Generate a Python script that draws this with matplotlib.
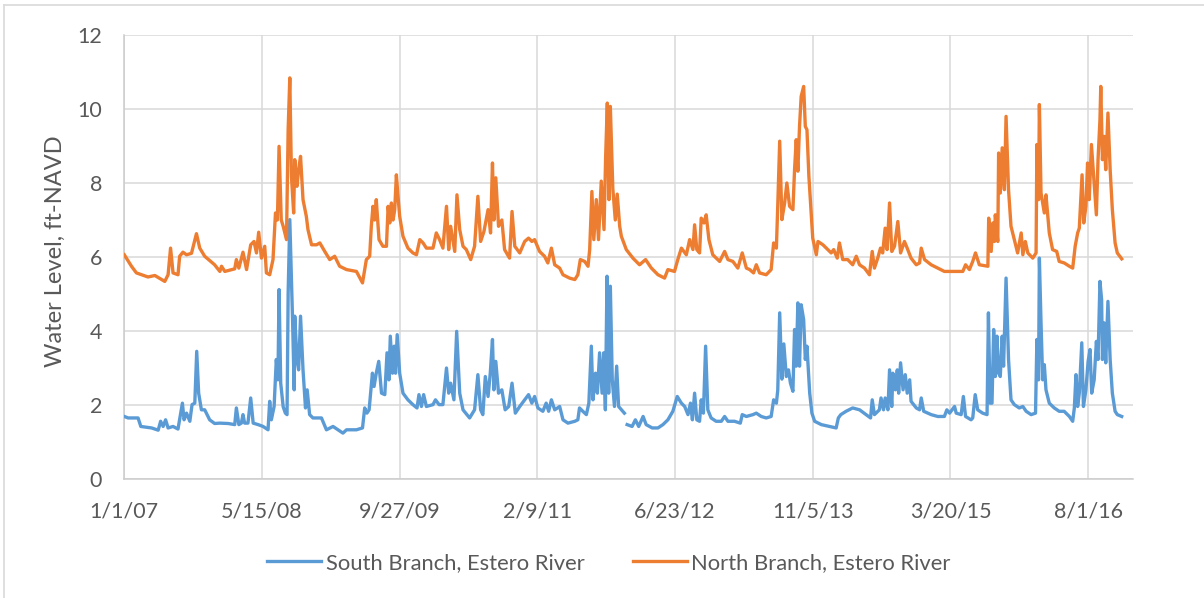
import numpy as np
import matplotlib
matplotlib.use("Agg")
import matplotlib.pyplot as plt
import matplotlib.dates as mdates
from matplotlib.lines import Line2D

# days since 1/1/2007 and water level (ft-NAVD)
south_day = [0, 14, 50, 60, 99, 123, 132, 141, 150, 159, 177, 195, 204, 211, 217, 226, 238, 246, 256, 263,
             270, 280, 292, 310, 328, 347, 377, 401, 407, 416, 425, 431, 437, 449, 459, 468, 486, 504, 522, 528,
             534, 544, 552, 558, 562, 568, 577, 585, 591, 595, 601, 611, 617, 619, 627, 633, 640, 649, 658, 664,
             673, 685, 716, 734, 758, 776, 794, 807, 843, 865, 873, 881, 889, 901, 907, 915, 924, 934, 946, 954,
             961, 966, 974, 980, 985, 991, 1000, 1012, 1030, 1048, 1063, 1070, 1079, 1087, 1097, 1121, 1130, 1143, 1157, 1170,
             1178, 1185, 1197, 1207, 1218, 1230, 1254, 1272, 1284, 1294, 1302, 1311, 1321, 1329, 1337, 1342, 1349, 1359, 1371, 1383,
             1396, 1408, 1420, 1436, 1454, 1468, 1480, 1490, 1502, 1520, 1532, 1541, 1551, 1563, 1581, 1593, 1611, 1636, 1647, 1653,
             1665, 1678, 1687, 1696, 1702, 1711, 1718, 1726, 1735, 1741, 1747, 1753, 1759, 1765, 1772, 1780, 1788, 1795, 1816, 1821,
             1826, 1844, 1856, 1868, 1884, 1895, 1917, 1938, 1956, 1974, 1992, 2008, 2023, 2035, 2047, 2056, 2063, 2071, 2079, 2089,
             2095, 2103, 2111, 2119, 2131, 2149, 2168, 2180, 2192, 2216, 2237, 2244, 2259, 2283, 2295, 2313, 2331, 2349, 2358, 2368,
             2373, 2380, 2388, 2395, 2404, 2412, 2419, 2428, 2434, 2440, 2446, 2452, 2458, 2467, 2473, 2479, 2489, 2497, 2507, 2531,
             2561, 2585, 2593, 2602, 2621, 2645, 2670, 2694, 2710, 2716, 2724, 2742, 2748, 2757, 2763, 2773, 2779, 2787, 2791, 2800,
             2807, 2812, 2819, 2828, 2836, 2843, 2852, 2857, 2876, 2888, 2894, 2903, 2930, 2954, 2978, 2987, 2997, 3015, 3021, 3039,
             3047, 3055, 3075, 3081, 3090, 3099, 3117, 3133, 3138, 3144, 3151, 3157, 3163, 3169, 3175, 3181, 3188, 3193, 3202, 3211,
             3220, 3232, 3250, 3263, 3275, 3293, 3309, 3314, 3320, 3323, 3329, 3335, 3341, 3347, 3359, 3377, 3395, 3413, 3432, 3444,
             3450, 3456, 3462, 3468, 3477, 3483, 3492, 3500, 3507, 3513, 3522, 3530, 3536, 3543, 3549, 3552, 3558, 3564, 3572, 3580,
             3588, 3598, 3606, 3622]
south_level = [1.69, 1.65, 1.65, 1.42, 1.38, 1.32, 1.56, 1.42, 1.60, 1.38, 1.42, 1.35, 1.74, 2.05, 1.60, 1.78, 1.56, 2.01, 2.05, 3.45,
               2.32, 1.87, 1.87, 1.60, 1.50, 1.51, 1.50, 1.47, 1.92, 1.47, 1.51, 1.74, 1.51, 1.51, 2.19, 1.51, 1.47, 1.42, 1.33, 2.10,
               1.60, 1.96, 3.23, 2.68, 5.12, 2.59, 1.95, 1.78, 1.74, 5.03, 7.01, 4.31, 2.41, 4.40, 3.23, 2.95, 4.40, 2.95, 1.92, 2.41,
               1.74, 1.65, 1.65, 1.33, 1.42, 1.33, 1.24, 1.33, 1.33, 1.38, 1.92, 1.78, 1.87, 2.86, 2.50, 2.86, 3.18, 2.32, 2.28, 3.41,
               2.68, 3.86, 2.86, 3.59, 2.86, 3.90, 2.86, 2.32, 2.14, 2.01, 1.92, 2.28, 1.96, 2.28, 1.96, 2.01, 2.14, 2.01, 2.01, 3.00,
               2.32, 2.59, 2.14, 3.99, 2.32, 1.87, 1.65, 1.87, 2.82, 1.87, 1.74, 2.77, 2.23, 2.86, 3.77, 2.41, 3.18, 2.32, 2.41, 1.87,
               1.96, 2.59, 1.78, 1.96, 2.14, 2.28, 2.05, 2.23, 1.92, 1.83, 2.05, 1.83, 2.14, 1.87, 1.96, 1.60, 1.51, 1.56, 1.60, 1.92,
               1.83, 1.74, 2.05, 3.59, 2.14, 2.86, 2.32, 3.41, 2.32, 3.41, 1.87, 5.48, 2.32, 5.21, 2.68, 1.96, 3.05, 1.96, 1.78, np.nan,
               1.47, 1.42, 1.60, 1.42, 1.69, 1.47, 1.38, 1.38, 1.47, 1.60, 1.83, 2.23, 2.05, 1.96, 1.74, 2.05, 1.60, 2.32, 1.60, 1.56,
               2.14, 1.78, 3.59, 1.87, 1.65, 1.56, 1.56, 1.69, 1.56, 1.56, 1.51, 1.74, 1.69, 1.74, 1.78, 1.69, 1.65, 1.69, 2.14, 2.05,
               2.40, 4.49, 2.70, 3.65, 2.77, 2.95, 2.59, 2.37, 4.04, 3.05, 4.76, 3.05, 4.71, 4.31, 3.23, 3.59, 2.32, 1.78, 1.56, 1.47,
               1.42, 1.38, 1.65, 1.74, 1.83, 1.92, 1.87, 1.74, 1.65, 2.14, 1.74, 1.87, 2.19, 1.87, 2.19, 1.87, 2.95, 1.96, 2.86, 2.41,
               2.95, 2.32, 3.14, 2.41, 2.82, 2.32, 2.68, 2.10, 1.92, 1.87, 2.19, 1.83, 1.74, 1.69, 1.69, 1.87, 1.78, 1.96, 1.78, 1.74,
               2.23, 1.69, 1.60, 1.65, 2.28, 1.87, 1.78, 1.74, 4.49, 2.05, 2.05, 4.04, 2.77, 3.86, 2.86, 2.77, 3.86, 3.05, 5.43, 3.23,
               2.14, 2.01, 1.92, 1.96, 1.83, 1.74, 1.78, 3.77, 2.68, 5.97, 4.22, 2.68, 3.09, 2.41, 2.05, 1.92, 1.83, 1.83, 1.69, 1.56,
               1.92, 2.82, 1.96, 2.32, 3.68, 1.96, 2.41, 3.18, 3.50, 2.32, 2.68, 3.72, 3.23, 5.34, 4.85, 3.23, 4.22, 3.14, 4.80, 3.23,
               2.32, 1.83, 1.74, 1.69]

north_day = [0, 26, 44, 86, 111, 147, 159, 168, 177, 195, 201, 213, 226, 244, 262, 274, 292, 328, 347, 353,
             365, 401, 407, 416, 431, 444, 459, 471, 480, 488, 498, 510, 516, 528, 540, 549, 556, 562, 570, 577,
             589, 595, 601, 607, 615, 619, 627, 633, 640, 649, 661, 667, 680, 698, 710, 728, 746, 764, 782, 807,
             843, 865, 879, 891, 897, 903, 909, 915, 925, 939, 952, 958, 964, 970, 976, 982, 988, 994, 1000, 1012,
             1030, 1048, 1061, 1073, 1085, 1097, 1121, 1133, 1145, 1157, 1170, 1178, 1185, 1200, 1208, 1218, 1230, 1242, 1258, 1272,
             1284, 1294, 1306, 1321, 1330, 1337, 1342, 1349, 1359, 1371, 1381, 1399, 1408, 1418, 1436, 1454, 1468, 1480, 1490, 1508,
             1526, 1538, 1551, 1563, 1581, 1593, 1617, 1636, 1647, 1656, 1672, 1684, 1690, 1698, 1705, 1714, 1722, 1732, 1742, 1748,
             1754, 1760, 1765, 1774, 1783, 1790, 1799, 1805, 1823, 1847, 1871, 1893, 1914, 1938, 1962, 1974, 1998, 2010, 2023, 2041,
             2053, 2065, 2071, 2079, 2089, 2095, 2105, 2113, 2123, 2137, 2162, 2180, 2192, 2210, 2228, 2244, 2259, 2271, 2285, 2295,
             2307, 2331, 2349, 2358, 2368, 2373, 2380, 2388, 2398, 2406, 2416, 2428, 2434, 2440, 2446, 2452, 2458, 2467, 2473, 2479,
             2486, 2495, 2500, 2513, 2519, 2537, 2555, 2567, 2576, 2589, 2597, 2609, 2627, 2645, 2658, 2670, 2688, 2706, 2716, 2724,
             2736, 2746, 2754, 2763, 2770, 2779, 2787, 2797, 2809, 2819, 2833, 2843, 2857, 2876, 2888, 2894, 2906, 2930, 2954, 2978,
             3015, 3045, 3055, 3069, 3081, 3091, 3105, 3136, 3139, 3148, 3154, 3160, 3163, 3172, 3175, 3181, 3188, 3196, 3202, 3211,
             3220, 3232, 3244, 3257, 3263, 3272, 3281, 3299, 3311, 3314, 3320, 3323, 3329, 3341, 3347, 3359, 3371, 3386, 3395, 3413,
             3432, 3444, 3453, 3462, 3468, 3478, 3484, 3492, 3498, 3504, 3512, 3522, 3530, 3536, 3543, 3546, 3552, 3558, 3564, 3572,
             3580, 3588, 3598, 3606, 3622]
north_level = [6.06, 5.75, 5.57, 5.46, 5.50, 5.34, 5.52, 6.24, 5.57, 5.52, 6.02, 6.13, 6.06, 6.10, 6.63, 6.24, 6.02, 5.79, 5.61, 5.75,
               5.61, 5.68, 5.93, 5.70, 6.13, 5.66, 6.33, 6.42, 6.11, 6.67, 5.97, 6.29, 5.57, 5.52, 5.93, 7.19, 7.00, 8.99, 7.00, 6.83,
               6.47, 9.44, 10.84, 8.18, 7.19, 8.63, 7.91, 8.36, 8.72, 7.55, 7.10, 6.74, 6.33, 6.33, 6.38, 6.15, 5.93, 6.02, 5.75, 5.66,
               5.61, 5.30, 5.93, 6.02, 6.83, 7.37, 7.00, 7.55, 6.47, 6.29, 6.29, 7.37, 6.92, 7.46, 7.00, 7.28, 8.22, 7.64, 7.10, 6.56,
               6.24, 6.11, 6.06, 6.47, 6.38, 6.24, 6.24, 6.65, 6.47, 6.24, 7.37, 6.20, 6.83, 6.15, 7.68, 6.74, 6.29, 6.20, 5.93, 6.29,
               7.64, 6.42, 6.69, 7.28, 6.65, 8.54, 7.00, 8.14, 6.83, 7.00, 6.20, 5.97, 7.23, 6.29, 6.11, 6.42, 6.51, 6.42, 6.47, 6.15,
               6.02, 5.84, 6.24, 5.79, 5.70, 5.52, 5.43, 5.39, 5.52, 5.93, 5.88, 5.75, 6.20, 7.77, 6.47, 7.55, 6.47, 8.05, 6.74, 8.72,
               10.16, 7.55, 10.07, 7.85, 7.00, 7.70, 6.83, 6.56, 6.20, 5.97, 5.79, 5.93, 5.70, 5.52, 5.43, 5.66, 5.61, 5.93, 6.24, 6.06,
               6.47, 6.20, 6.87, 6.20, 6.11, 7.05, 6.92, 7.14, 6.47, 6.06, 5.88, 6.15, 5.93, 5.88, 5.70, 6.11, 5.70, 5.66, 5.57, 5.79,
               5.57, 5.52, 5.66, 6.38, 6.24, 7.40, 9.13, 7.01, 7.46, 8.00, 7.37, 7.28, 8.36, 9.17, 8.32, 9.53, 10.34, 10.61, 9.53, 9.44,
               8.18, 7.10, 6.51, 6.06, 6.42, 6.33, 6.20, 6.11, 6.20, 5.97, 6.38, 5.93, 5.93, 5.79, 6.02, 5.79, 5.70, 5.52, 6.15, 5.70,
               5.97, 6.24, 6.11, 6.78, 6.20, 7.46, 6.15, 6.29, 6.96, 6.11, 6.42, 6.24, 5.97, 5.79, 5.84, 6.24, 5.93, 5.79, 5.70, 5.61,
               5.61, 5.61, 5.79, 5.66, 5.88, 6.11, 5.79, 5.75, 7.05, 6.15, 6.92, 6.42, 7.14, 6.42, 8.81, 7.73, 8.95, 7.82, 9.80, 7.82,
               6.83, 6.47, 6.11, 6.65, 6.06, 6.42, 6.11, 5.97, 6.11, 9.04, 7.55, 10.12, 7.73, 7.19, 7.68, 6.65, 6.20, 6.15, 5.88, 5.84,
               5.75, 5.70, 6.29, 6.65, 6.78, 8.22, 6.92, 7.37, 8.54, 7.55, 9.04, 8.00, 7.14, 8.63, 9.71, 10.61, 8.63, 9.26, 8.36, 9.89,
               8.36, 7.28, 6.38, 6.11, 5.95]

series_names = ["South Branch, Estero River", "North Branch, Estero River"]
y_ticks = [0, 2, 4, 6, 8, 10, 12]

start = np.datetime64("2007-01-01")
south_x = start + np.array(south_day).astype("timedelta64[D]")
north_x = start + np.array(north_day).astype("timedelta64[D]")
x_ticks = [start + np.timedelta64(500 * k, "D") for k in range(8)]

plt.rcParams["font.family"] = ["Lato", "DejaVu Sans"]
grey_text = "#595959"
grid_col = "#d9d9d9"

fig = plt.figure(figsize=(12.04, 5.98), dpi=100)
ax = fig.add_axes([124.3 / 1204, 1 - 479 / 598, (1133 - 124.3) / 1204, (479 - 35) / 598])

ax.plot(south_x, south_level, color="#5B9BD5", lw=2.4, label=series_names[0], zorder=3)
ax.plot(north_x, north_level, color="#ED7D31", lw=2.4, label=series_names[1], zorder=4)

ax.set_ylim(0, 12)
ax.set_yticks(y_ticks)
ax.set_xlim(start, start + np.timedelta64(3663, "D"))
ax.set_xticks(x_ticks)
ax.xaxis.set_major_formatter(plt.FuncFormatter(
    lambda v, pos: "{d.month}/{d.day}/{yy:02d}".format(d=mdates.num2date(v), yy=mdates.num2date(v).year % 100)))

ax.grid(True, color=grid_col, lw=1.1, zorder=0)
ax.set_axisbelow(True)
for side in ["top", "right"]:
    ax.spines[side].set_visible(False)
for side in ["left", "bottom"]:
    ax.spines[side].set_color("#cccccc")
    ax.spines[side].set_linewidth(1.1)
ax.tick_params(axis="both", length=0, labelsize=15.5, colors=grey_text)
ax.tick_params(axis="y", pad=16)
ax.tick_params(axis="x", pad=16)

ax.set_ylabel("Water Level, ft-NAVD", fontsize=17, color=grey_text)
ax.yaxis.set_label_coords(-0.058, 0.514)

fig.legend(loc="center", bbox_to_anchor=(609 / 1204, 1 - 563 / 598), ncol=2, frameon=False,
           fontsize=15.8, labelcolor=grey_text, handlelength=2.45, handletextpad=0.22,
           columnspacing=2.2)

# light frame around the chart area
fig.add_artist(Line2D([3.5 / 1204, 1], [1 - 5 / 598, 1 - 5 / 598], color=grid_col, lw=1.2))
fig.add_artist(Line2D([3.5 / 1204, 3.5 / 1204], [0, 1 - 5 / 598], color=grid_col, lw=1.2))

fig.savefig("out.png", dpi=100)
